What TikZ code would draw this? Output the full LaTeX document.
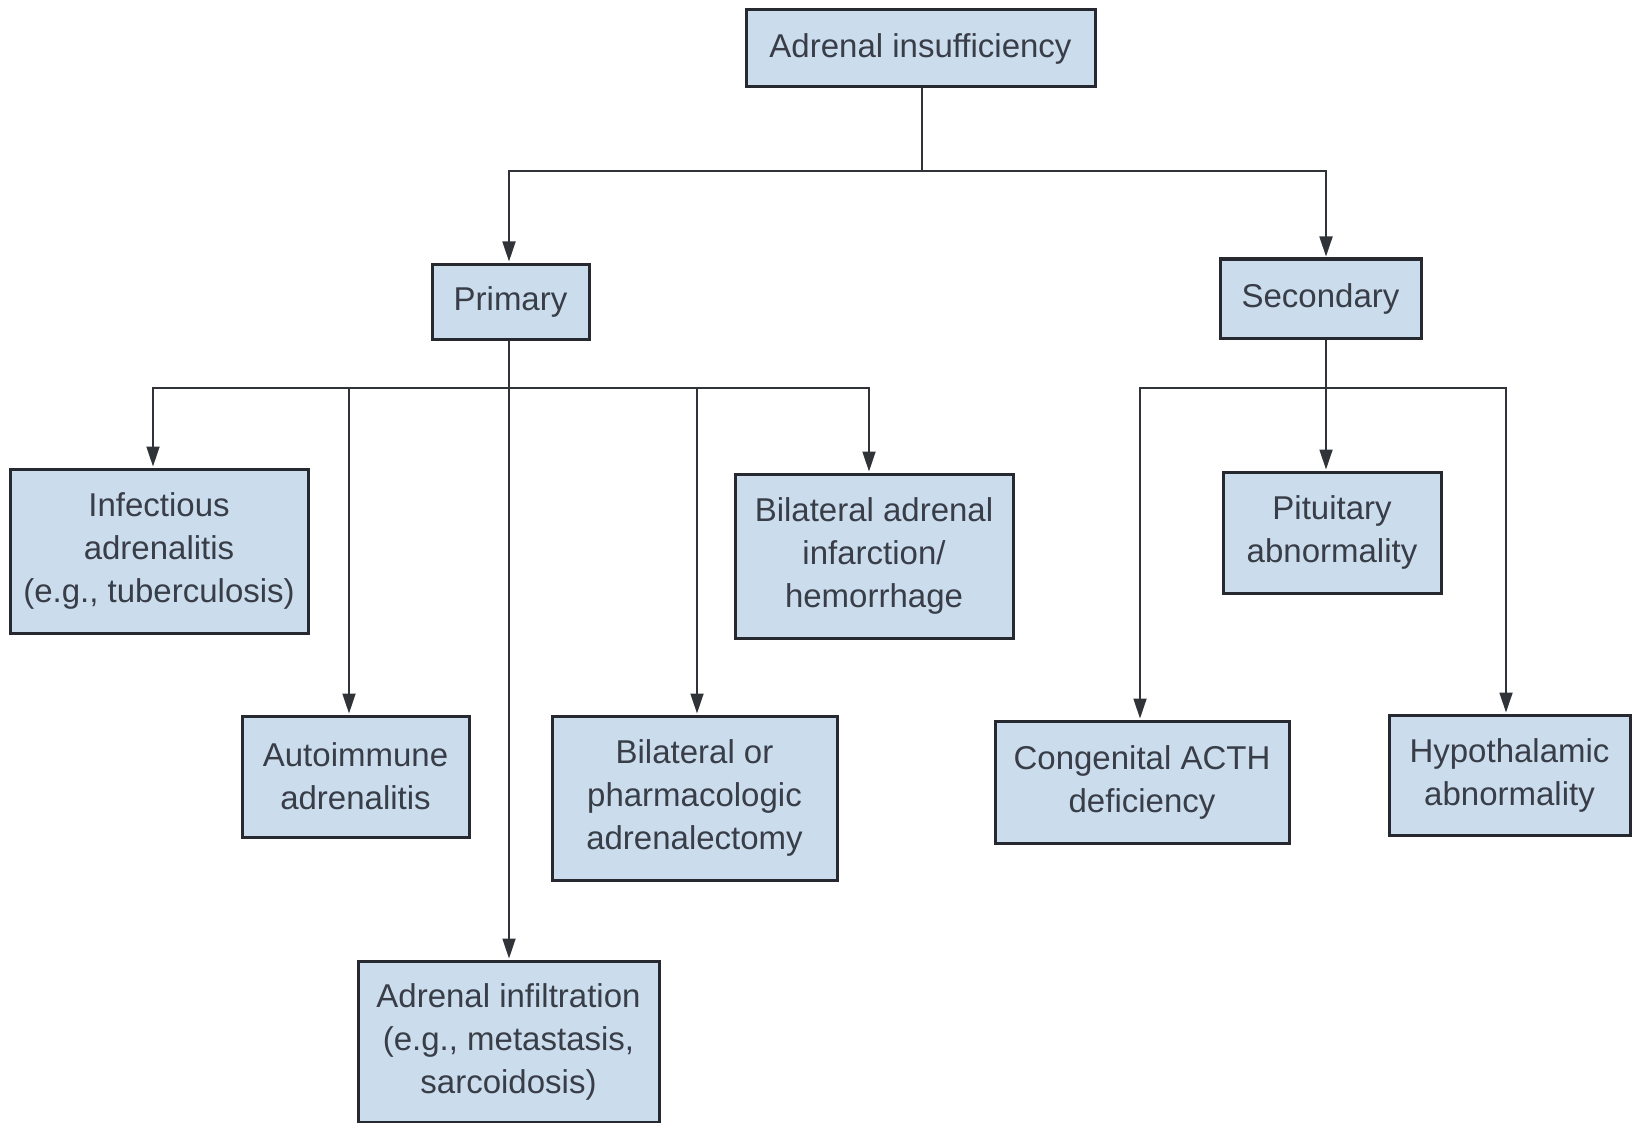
\documentclass[tikz,border=0pt]{standalone}
\usepackage{fontspec}
\setmainfont{Liberation Sans}
\usetikzlibrary{arrows.meta}
\definecolor{boxfill}{HTML}{CBDDEC}
\definecolor{boxline}{HTML}{262A30}
\definecolor{txt}{HTML}{383D48}
\definecolor{wire}{HTML}{303338}
\begin{document}
\begin{tikzpicture}[x=1pt,y=-1pt,
  box/.style={draw=boxline, line width=3pt, fill=boxfill, text=txt,
    align=center, inner sep=0pt,
    font=\fontsize{33}{43}\selectfont},
  wire/.style={draw=wire, line width=1.8pt},
  arr/.style={wire, -{Triangle[width=13pt,length=20pt]}, shorten >=1pt}]
\useasboundingbox[fill=white] (0,0) rectangle (1637,1123);

% top level
\node[box, minimum width=349pt, minimum height=77pt] (top) at (920.5,48.5) {Adrenal insufficiency};
\node[box, minimum width=157pt, minimum height=75pt] (pri) at (510.5,301.5) {Primary};
\node[box, minimum width=201pt, minimum height=79pt] (sec) at (1320.5,298.5) {Secondary};

% primary causes
\node[box, minimum width=298pt, minimum height=164pt] (inf) at (159,551) {Infectious\\adrenalitis\\(e.g., tuberculosis)};
\node[box, minimum width=227pt, minimum height=121pt] (auto) at (355.5,776.5) {Autoimmune\\adrenalitis};
\node[box, minimum width=301pt, minimum height=161pt] (infil) at (508.5,1041.5) {Adrenal infiltration\\(e.g., metastasis,\\sarcoidosis)};
\node[box, minimum width=285pt, minimum height=164pt] (pharm) at (694.5,798) {Bilateral or\\pharmacologic\\adrenalectomy};
\node[box, minimum width=278pt, minimum height=164pt] (infarct) at (874,556) {Bilateral adrenal\\infarction/\\hemorrhage};

% secondary causes
\node[box, minimum width=218pt, minimum height=121pt] (pit) at (1332,532.5) {Pituitary\\abnormality};
\node[box, minimum width=294pt, minimum height=122pt] (cong) at (1142,782) {Congenital ACTH\\deficiency};
\node[box, minimum width=241pt, minimum height=120pt] (hypo) at (1509.5,775) {Hypothalamic\\abnormality};

% junction points of the buses
\coordinate (j0) at (922,171);
\coordinate (j1) at (509,388);
\coordinate (j2) at (1326,388);

% top split
\draw[wire] (top.south -| j0) -- (j0);
\draw[arr] (j0) -| ([xshift=-1.5pt]pri.north);
\draw[arr] (j0) -| ([xshift=5.5pt]sec.north);

% primary bus
\draw[wire] ([xshift=-1.5pt]pri.south) -- (j1);
\draw[arr] (j1) -| ([xshift=-6pt]inf.north);
\draw[arr] (j1) -| ([xshift=-6.5pt]auto.north);
\draw[arr] (j1) -- (infil.north -| j1);
\draw[arr] (j1) -| ([xshift=2.5pt]pharm.north);
\draw[arr] (j1) -| ([xshift=-5pt]infarct.north);

% secondary bus
\draw[wire] ([xshift=5.5pt]sec.south) -- (j2);
\draw[arr] (j2) -- (pit.north -| j2);
\draw[arr] (j2) -| ([xshift=-2pt]cong.north);
\draw[arr] (j2) -| ([xshift=-3.5pt]hypo.north);
\end{tikzpicture}
\end{document}
